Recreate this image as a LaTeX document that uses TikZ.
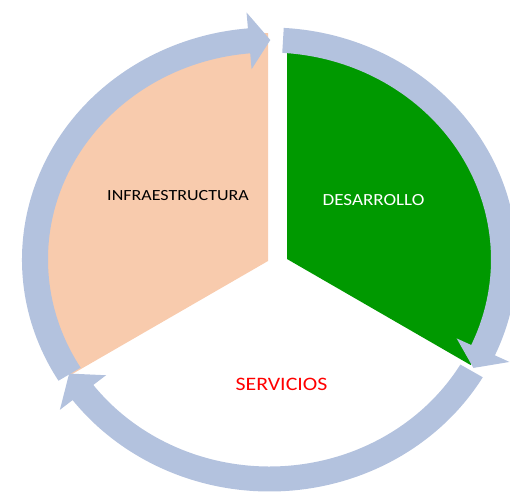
\documentclass[tikz,border=0pt]{standalone}
\usepackage{fontspec}
\setmainfont{Carlito}
\usetikzlibrary{calc}
\definecolor{ringblue}{HTML}{B3C2DE}
\definecolor{peach}{HTML}{F8CBAD}
\definecolor{dgreen}{HTML}{009900}
\newcommand{\RingArrow}[3]{%
  \fill[ringblue] ($(C)+(#1:247.5 and 232)$)
    arc[start angle=#1, end angle=#2, x radius=247.5, y radius=232]
    -- ($(C)+(#2:263.5 and 248)$)
    -- ($(C)+(#3:234.5 and 219.5)$)
    -- ($(C)+(#2:205.5 and 191)$)
    -- ($(C)+(#2:221.5 and 207)$)
    arc[start angle=#2, end angle=#1, x radius=221.5, y radius=207]
    -- cycle;}
\begin{document}
\begin{tikzpicture}[x=1pt,y=1pt,
  lbl/.style={inner sep=0pt}]
\useasboundingbox (0,0) rectangle (510,-491);
\coordinate (C) at (269.5,-259.5);
\coordinate (VI) at (268,-261);
\coordinate (VD) at (287,-259);
% sectors
\fill[peach] (VI) -- ++(90:228) arc[start angle=90, end angle=210, radius=228] -- cycle;
\fill[dgreen] (VD) -- ++(90:212) arc[start angle=90, end angle=-30, radius=212] -- cycle;
% ring arrows
\RingArrow{211.5}{95}{89.8}
\RingArrow{86.7}{-24.4}{-29.6}
\RingArrow{-30.5}{-142.7}{-148.7}
% labels
\node[lbl, text=black, xscale=1.16, font=\fontsize{15.5}{18}\selectfont] (infra) at (178,-196) {INFRAESTRUCTURA};
\node[lbl, text=white, xscale=1.12, font=\fontsize{17}{20}\selectfont] (desa) at (373.5,-200) {DESARROLLO};
\node[lbl, text=red, xscale=1.15, font=\fontsize{19}{22}\selectfont] (serv) at (281.5,-384) {SERVICIOS};
\end{tikzpicture}
\end{document}
